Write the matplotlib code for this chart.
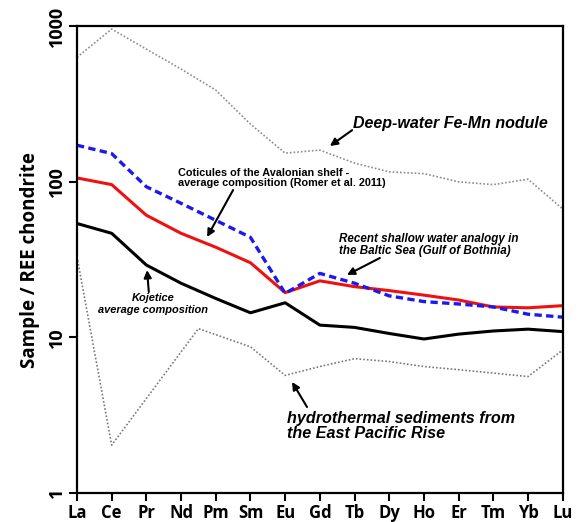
import numpy as np
import matplotlib
matplotlib.use("Agg")
import matplotlib.pyplot as plt

# REE normalised to chondrite
elements = ["La", "Ce", "Pr", "Nd", "Pm", "Sm", "Eu", "Gd", "Tb", "Dy", "Ho", "Er", "Tm", "Yb", "Lu"]
xpos = np.arange(len(elements))

fe_mn_nodule = [632, 960, 713, 531, 389, 235, 153, 160, 132, 116, 113, 100, 96, 104, 67]
coticules = [106, 96, 61, 46.7, 38, 30.2, 19.4, 23.1, 21.2, 20, 18.7, 17.4, 15.7, 15.5, 16.0]
baltic = [172, 152, 93, 72.8, 56.6, 44, 19.2, 25.8, 22.3, 18.5, 17, 16.4, 15.7, 14.1, 13.5]
kojetice = [54, 46.7, 29.2, 22.3, 17.8, 14.4, 16.7, 12.0, 11.6, 10.6, 9.77, 10.5, 11.0, 11.3, 10.9]

# East Pacific Rise sediments (no Pr, Nd/Pm point sits between the two)
epr_x = [0, 1, 3.5, 5, 6, 7, 8, 9, 10, 11, 12, 13, 14]
epr = [33, 2.03, 11.4, 8.7, 5.7, 6.5, 7.3, 7.0, 6.5, 6.2, 5.9, 5.6, 8.3]

fig = plt.figure(figsize=(5.81, 5.22), dpi=100)
ax = fig.add_axes([0.1325, 0.0556, 0.836, 0.894])

ax.plot(xpos, fe_mn_nodule, color="#8c8c8c", lw=1.2, ls=(0, (1, 1.2)))
ax.plot(epr_x, epr, color="#7a7a7a", lw=1.2, ls=(0, (1, 1.2)))
ax.plot(xpos, kojetice, color="black", lw=2.2)
ax.plot(xpos, coticules, color="#ee1111", lw=2.2)
ax.plot(xpos, baltic, color="#1a1aee", lw=2.4, ls=(0, (2.2, 1.3)))

ax.set_yscale("log")
ax.set_ylim(1, 1000)
ax.set_xlim(0, 14)
ax.set_xticks(xpos)
ax.set_xticklabels(elements, fontsize=12, fontweight="bold", family="Open Sans")
ax.set_yticks([1, 10, 100, 1000])
ax.set_yticklabels(["1", "10", "100", "1000"], rotation=90, va="center",
                   fontsize=13, fontweight="bold", family="Open Sans")
ax.yaxis.set_minor_locator(matplotlib.ticker.NullLocator())
ax.tick_params(axis="both", direction="out", width=1.5, length=6, pad=2)
ax.set_ylabel("Sample / REE chondrite", fontsize=13.5, fontweight="bold",
              family="Open Sans", labelpad=6)
for s in ax.spines.values():
    s.set_linewidth(1.6)

arrow = dict(arrowstyle="-|>", color="black", lw=1.5, mutation_scale=11,
             shrinkA=0, shrinkB=0)
txt = dict(family="Liberation Sans", fontweight="bold")

ax.text(7.95, 239, "Deep-water Fe-Mn nodule", fontsize=11.5, style="italic",
        ha="left", va="center", **txt)
ax.annotate("", xy=(7.29, 170), xytext=(7.93, 215), arrowprops=arrow)

ax.text(2.91, 106, "Coticules of the Avalonian shelf -\naverage composition (Romer et al. 2011)",
        fontsize=7.85, ha="left", va="center", linespacing=1.1, **txt)
ax.annotate("", xy=(3.75, 44.2), xytext=(4.5, 88.6), arrowprops=arrow)

ax.text(7.55, 39.3, "Recent shallow water analogy in\nthe Baltic Sea (Gulf of Bothnia)",
        fontsize=8.4, style="italic", ha="left", va="center", linespacing=1.1, **txt)
ax.annotate("", xy=(7.78, 25.2), xytext=(8.73, 32.4), arrowprops=arrow)

ax.text(2.19, 16.4, "Kojetice\naverage composition", fontsize=7.9, style="italic",
        ha="center", va="center", linespacing=1.15, **txt)
ax.annotate("", xy=(2.02, 27.1), xytext=(2.07, 19.6), arrowprops=arrow)

ax.text(6.05, 2.7, "hydrothermal sediments from\nthe East Pacific Rise", fontsize=11.6,
        style="italic", ha="left", va="center", linespacing=1.05, **txt)
ax.annotate("", xy=(6.2, 5.17), xytext=(6.63, 3.57), arrowprops=arrow)

fig.savefig("out.png", dpi=100)
